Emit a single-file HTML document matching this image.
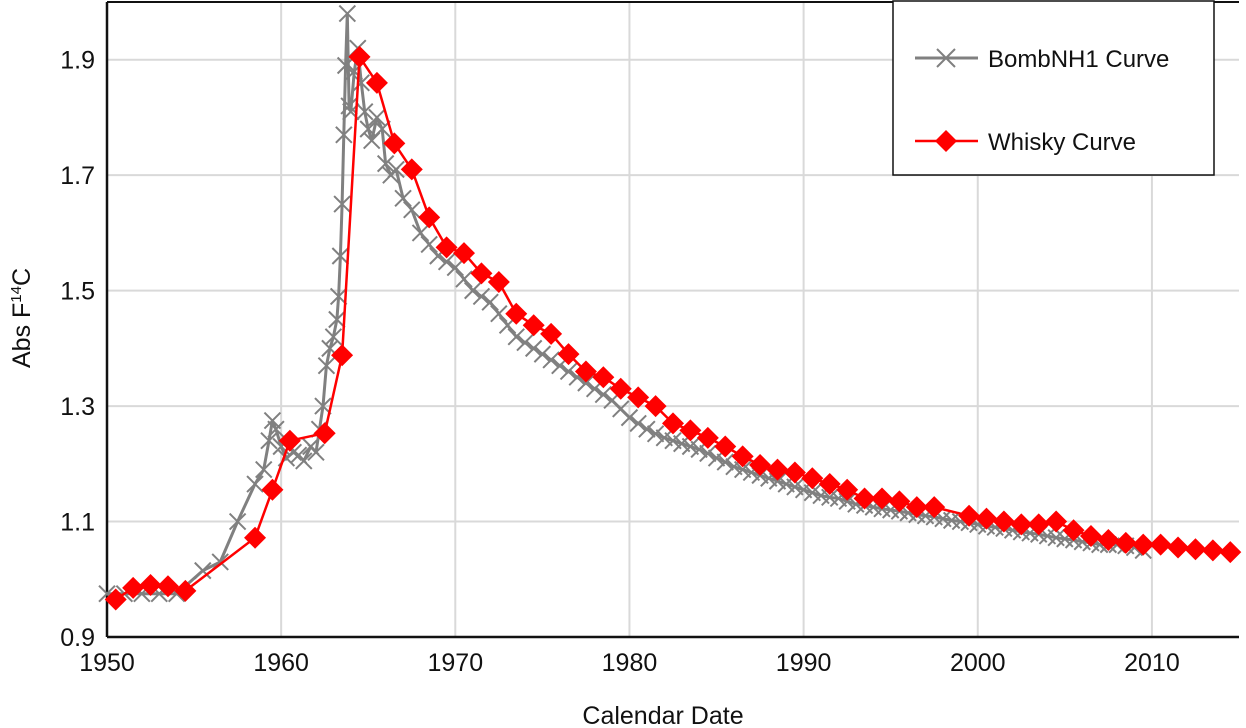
<!DOCTYPE html>
<html><head><meta charset="utf-8"><style>
html,body{margin:0;padding:0;background:#fff;}
svg{display:block;font-family:"Liberation Sans",sans-serif;}
</style></head><body>
<svg id="chart" width="1246" height="728" viewBox="0 0 1246 728" xmlns="http://www.w3.org/2000/svg">
<g id="grid"></g>
<g id="axes"></g>
<g id="series"></g>
<text x="663" y="724" text-anchor="middle" font-size="25" fill="#111">Calendar Date</text>
<text transform="translate(30,318) rotate(-90)" text-anchor="middle" font-size="25" fill="#111">Abs F<tspan font-size="15" dy="-9">14</tspan><tspan dy="9">C</tspan></text>
<g>
<rect x="893" y="1" width="321" height="174" fill="#fff" stroke="#111" stroke-width="1.5"/>
<g>
<line x1="915" y1="58" x2="978" y2="58" stroke="#808080" stroke-width="3"/>
<path d="M937 49 L955 67 M955 49 L937 67" stroke="#808080" stroke-width="2"/>
<text x="988" y="67" font-size="24" fill="#111">BombNH1 Curve</text>
</g>
<g>
<line x1="915" y1="141" x2="978" y2="141" stroke="#ff0000" stroke-width="2.5"/>
<path d="M946 130 L957 141 L946 152 L935 141 Z" fill="#ff0000"/>
<text x="988" y="150" font-size="24" fill="#111">Whisky Curve</text>
</g>
</g>
</svg>
<script>
const xTicks = [1950,1960,1970,1980,1990,2000,2010];
const yTicks = [0.9,1.1,1.3,1.5,1.7,1.9];
const yTickLabels = ["0.9","1.1","1.3","1.5","1.7","1.9"];
const yGridVals = [1.1,1.3,1.5,1.7,1.9];
const bombYears = [1950,1951,1952,1953,1954,1955.5,1956.5,1957.5,1958.5,1959,1959.3,1959.5,1959.7,1960,1960.3,1960.7,1961,1961.3,1961.7,1962,1962.2,1962.4,1962.6,1962.8,1963,1963.2,1963.3,1963.4,1963.5,1963.6,1963.7,1963.8,1963.9,1964,1964.2,1964.4,1964.6,1964.8,1965,1965.2,1965.5,1965.8,1966,1966.3,1966.6,1967,1967.5,1968,1968.5,1969,1969.5,1970,1970.5,1971,1971.5,1972,1972.5,1973,1973.5,1974,1974.5,1975,1975.5,1976,1976.5,1977,1977.5,1978,1978.5,1979,1979.5,1980,1980.5,1981,1981.5,1982,1982.5,1983,1983.5,1984,1984.5,1985,1985.5,1986,1986.5,1987,1987.5,1988,1988.5,1989,1989.5,1990,1990.5,1991,1991.5,1992,1992.5,1993,1993.5,1994,1994.5,1995,1995.5,1996,1996.5,1997,1997.5,1998,1998.5,1999,1999.5,2000,2000.5,2001,2001.5,2002,2002.5,2003,2003.5,2004,2004.5,2005,2005.5,2006,2006.5,2007,2007.5,2008,2008.5,2009,2009.5];
const bombValues = [0.975,0.975,0.975,0.975,0.975,1.015,1.03,1.10,1.165,1.19,1.24,1.275,1.26,1.23,1.21,1.22,1.215,1.205,1.23,1.22,1.26,1.30,1.37,1.40,1.42,1.45,1.49,1.56,1.65,1.77,1.89,1.98,1.82,1.81,1.88,1.92,1.86,1.81,1.78,1.76,1.80,1.78,1.72,1.70,1.71,1.66,1.64,1.60,1.58,1.56,1.55,1.54,1.52,1.50,1.49,1.48,1.46,1.44,1.42,1.41,1.40,1.39,1.38,1.37,1.36,1.35,1.34,1.33,1.32,1.31,1.295,1.28,1.27,1.26,1.252,1.245,1.24,1.235,1.23,1.225,1.218,1.21,1.203,1.195,1.19,1.185,1.18,1.175,1.17,1.165,1.16,1.155,1.15,1.145,1.142,1.14,1.135,1.13,1.128,1.125,1.122,1.12,1.118,1.115,1.112,1.11,1.108,1.105,1.102,1.10,1.098,1.095,1.092,1.09,1.088,1.085,1.082,1.08,1.078,1.075,1.072,1.07,1.068,1.065,1.063,1.06,1.06,1.06,1.058,1.055,1.05];
const whiskyYears = [1950.5,1951.5,1952.5,1953.5,1954.5,1958.5,1959.5,1960.5,1962.5,1963.5,1964.5,1965.5,1966.5,1967.5,1968.5,1969.5,1970.5,1971.5,1972.5,1973.5,1974.5,1975.5,1976.5,1977.5,1978.5,1979.5,1980.5,1981.5,1982.5,1983.5,1984.5,1985.5,1986.5,1987.5,1988.5,1989.5,1990.5,1991.5,1992.5,1993.5,1994.5,1995.5,1996.5,1997.5,1999.5,2000.5,2001.5,2002.5,2003.5,2004.5,2005.5,2006.5,2007.5,2008.5,2009.5,2010.5,2011.5,2012.5,2013.5,2014.5];
const whiskyValues = [0.965,0.985,0.99,0.988,0.98,1.072,1.155,1.24,1.253,1.388,1.905,1.86,1.755,1.71,1.627,1.575,1.565,1.53,1.515,1.46,1.44,1.425,1.39,1.36,1.35,1.33,1.315,1.30,1.27,1.258,1.245,1.23,1.213,1.198,1.19,1.185,1.175,1.165,1.155,1.14,1.14,1.135,1.125,1.125,1.11,1.105,1.10,1.095,1.095,1.10,1.085,1.075,1.068,1.063,1.06,1.06,1.055,1.052,1.05,1.047];

const L=107, R=1239, T=2, B=637;
const X0=1950, X1=2015, Y0=0.9, Y1=2.0;
const sx = v => L + (v - X0) / (X1 - X0) * (R - L);
const sy = v => B - (v - Y0) / (Y1 - Y0) * (B - T);
const NS = "http://www.w3.org/2000/svg";
function mk(tag, attrs, parent){const e=document.createElementNS(NS,tag);for(const k in attrs)e.setAttribute(k,attrs[k]);parent.appendChild(e);return e;}
const gridG=document.getElementById('grid'), axesG=document.getElementById('axes'), seriesG=document.getElementById('series');

xTicks.forEach(t=>{
  if(t!==X0){const g=mk('line',{x1:sx(t),x2:sx(t),y1:T,y2:B,stroke:'#d9d9d9','stroke-width':2},gridG);
  
  }
  const tx=mk('text',{x:sx(t),y:B+34,'text-anchor':'middle','font-size':25,fill:'#111'},axesG);
  tx.textContent=t;
  
  
});
yGridVals.forEach(v=>{
  const g=mk('line',{x1:L,x2:R,y1:sy(v),y2:sy(v),stroke:'#d9d9d9','stroke-width':2},gridG);
  
  
});
yTicks.forEach((v,i)=>{
  const tx=mk('text',{x:L-12,y:sy(v)+9,'text-anchor':'end','font-size':25,fill:'#111'},axesG);
  tx.textContent=yTickLabels[i];
  
  
});
const topBorder=mk('line',{x1:L,x2:R,y1:T,y2:T,stroke:'#111','stroke-width':2},axesG);


const yAxisLine=mk('line',{x1:L,x2:L,y1:T,y2:B,stroke:'#111','stroke-width':2.5},axesG);


const xAxisLine=mk('line',{x1:L,x2:R,y1:B,y2:B,stroke:'#111','stroke-width':2.5},axesG);



let pd=bombYears.map((y,i)=>(i?'L':'M')+sx(y).toFixed(1)+' '+sy(bombValues[i]).toFixed(1)).join(' ');
const bombLine=mk('path',{d:pd,fill:'none',stroke:'#808080','stroke-width':3,'stroke-linejoin':'round'},seriesG);


bombYears.forEach((y,i)=>{
  const cx=sx(y), cy=sy(bombValues[i]), s=8;
  const m=mk('path',{d:`M${cx-s} ${cy-s} L${cx+s} ${cy+s} M${cx+s} ${cy-s} L${cx-s} ${cy+s}`,stroke:'#808080','stroke-width':2},seriesG);
  
  
});
pd=whiskyYears.map((y,i)=>(i?'L':'M')+sx(y).toFixed(1)+' '+sy(whiskyValues[i]).toFixed(1)).join(' ');
const whiskyLine=mk('path',{d:pd,fill:'none',stroke:'#ff0000','stroke-width':2.5,'stroke-linejoin':'round'},seriesG);


whiskyYears.forEach((y,i)=>{
  const cx=sx(y), cy=sy(whiskyValues[i]), s=11;
  const m=mk('path',{d:`M${cx} ${cy-s} L${cx+s} ${cy} L${cx} ${cy+s} L${cx-s} ${cy} Z`,fill:'#ff0000'},seriesG);
  
  
});
</script>
</body></html>
